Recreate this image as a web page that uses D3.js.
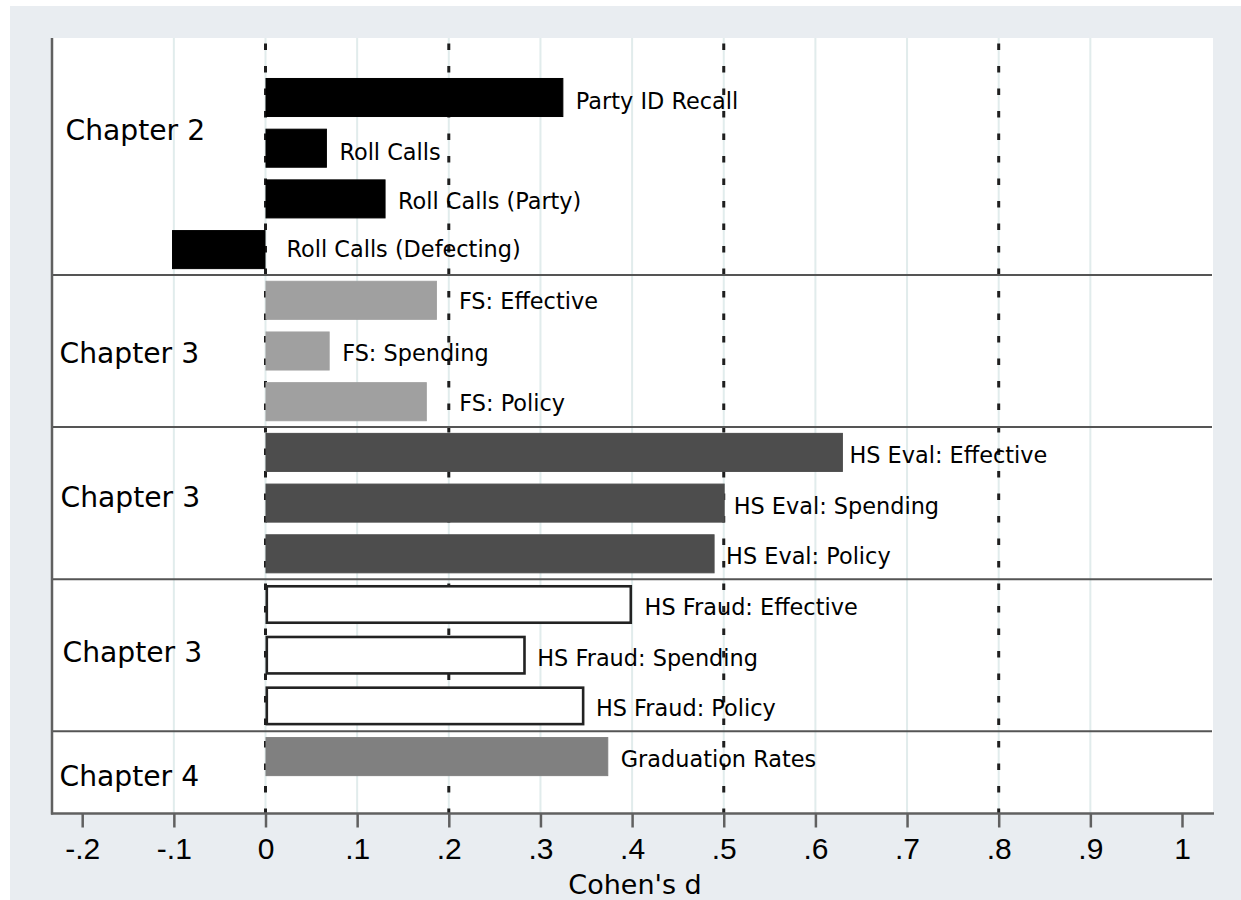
<!DOCTYPE html>
<html>
<head>
<meta charset="utf-8">
<script src="https://cdn.jsdelivr.net/npm/d3@7"></script>
<style>
  html, body { margin: 0; padding: 0; background: #fff; }
  svg { display: block; }
</style>
</head>
<body>
<script>
// ---------------- DATA ----------------
const categories = [
  "Party ID Recall", "Roll Calls", "Roll Calls (Party)", "Roll Calls (Defecting)",
  "FS: Effective", "FS: Spending", "FS: Policy",
  "HS Eval: Effective", "HS Eval: Spending", "HS Eval: Policy",
  "HS Fraud: Effective", "HS Fraud: Spending", "HS Fraud: Policy",
  "Graduation Rates"
];
const cohensD = [0.325, 0.067, 0.131, -0.102,
                 0.187, 0.070, 0.176,
                 0.630, 0.501, 0.490,
                 0.400, 0.284, 0.348,
                 0.374];
const groupOf = [0, 0, 0, 0, 1, 1, 1, 2, 2, 2, 3, 3, 3, 4];
const groupLabels = ["Chapter 2", "Chapter 3", "Chapter 3", "Chapter 3", "Chapter 4"];
const xTicks = [-0.2, -0.1, 0, 0.1, 0.2, 0.3, 0.4, 0.5, 0.6, 0.7, 0.8, 0.9, 1];
const gridValues = [-0.1, 0, 0.1, 0.2, 0.3, 0.4, 0.5, 0.6, 0.7, 0.8, 0.9];
const refLines = [0, 0.2, 0.5, 0.8];
const xTitle = "Cohen's d";

// ---------------- LAYOUT / STYLE ----------------
const W = 1241, H = 900;
const plot = { left: 52, right: 1213, top: 38, bottom: 813.5 };
const groupFill   = ["#000000", "#a0a0a0", "#4d4d4d", "#ffffff", "#808080"];
const groupStroke = ["#000000", "#a0a0a0", "#4d4d4d", "#222222", "#808080"];
// small hand-placement nudges of bar labels (px), as in the original
const labelNudgeX = [0, 0, 0, 8.5, 9.5, 0, 20, -6, -3.5, -1, 0, -1, -1, 0];
const labelNudgeY = [1, 1, 0, -3.5, -2, -0.5, -1, 0, 0, 0, 0, 0, 0, 0];
// chapter label placement relative to the centre of its group (px)
const chapterDX = [65.5, 59.5, 60.5, 62.5, 59.5];
const chapterDY = [-33.5, 12, 4, 7, 29.5];

const svg = d3.select("body").append("svg")
  .attr("width", W).attr("height", H);

svg.append("rect").attr("width", W).attr("height", H).attr("fill", "#ffffff");
svg.append("rect").attr("x", 10).attr("y", 6)
  .attr("width", W - 10).attr("height", H - 6).attr("fill", "#e9edf1");
svg.append("rect").attr("x", plot.left).attr("y", plot.top)
  .attr("width", plot.right - plot.left).attr("height", plot.bottom - plot.top)
  .attr("fill", "#ffffff");

const x = d3.scaleLinear().domain([-0.2, 1]).range([82.2, 1182]);
const y = d3.scaleBand().domain(d3.range(categories.length))
  .range([72.15, 781.95]).paddingInner(0.23).paddingOuter(0.115);
const bw = y.bandwidth();
const cy = i => y(i) + bw / 2;

// gridlines
svg.append("g").selectAll("line").data(gridValues).join("line")
  .attr("x1", d => x(d)).attr("x2", d => x(d))
  .attr("y1", plot.top).attr("y2", plot.bottom)
  .attr("stroke", "#e1ecec").attr("stroke-width", 2);

// reference dashed lines
svg.append("g").selectAll("line").data(refLines).join("line")
  .attr("x1", d => x(d)).attr("x2", d => x(d))
  .attr("y1", 43.5).attr("y2", plot.bottom)
  .attr("stroke", "#1e1e1e").attr("stroke-width", 3)
  .attr("stroke-dasharray", "6.5,16");

// group separators
const boundaries = d3.range(1, categories.length).filter(i => groupOf[i] !== groupOf[i - 1]);
svg.append("g").selectAll("line").data(boundaries).join("line")
  .attr("x1", plot.left).attr("x2", plot.right - 1)
  .attr("y1", i => (y(i - 1) + bw + y(i)) / 2)
  .attr("y2", i => (y(i - 1) + bw + y(i)) / 2)
  .attr("stroke", "#555555").attr("stroke-width", 2);

// bars
svg.append("g").selectAll("rect").data(cohensD).join("rect")
  .each(function (d, i) {
    const g = groupOf[i];
    const outlined = groupFill[g] === "#ffffff";
    const sw = outlined ? 2.6 : 1;
    const x0 = Math.min(x(0), x(d)), x1 = Math.max(x(0), x(d));
    d3.select(this)
      .attr("x", x0 + sw / 2).attr("y", y(i) + sw / 2)
      .attr("width", x1 - x0 - sw).attr("height", bw - sw)
      .attr("fill", groupFill[g]).attr("stroke", groupStroke[g])
      .attr("stroke-width", sw);
  });

// bar labels
svg.append("g").selectAll("text").data(categories).join("text")
  .attr("x", (d, i) => x(Math.max(0, cohensD[i])) + 12.5 + labelNudgeX[i])
  .attr("y", (d, i) => cy(i) + 10.5 + labelNudgeY[i])
  .attr("font-family", "'DejaVu Sans', sans-serif")
  .attr("font-size", 22.4).attr("fill", "#000")
  .text(d => d);

// chapter labels
const groupCenters = groupLabels.map((g, k) => {
  const idx = d3.range(categories.length).filter(i => groupOf[i] === k);
  return (cy(idx[0]) + cy(idx[idx.length - 1])) / 2;
});
svg.append("g").selectAll("text").data(groupLabels).join("text")
  .attr("x", (d, k) => chapterDX[k])
  .attr("y", (d, k) => groupCenters[k] + chapterDY[k])
  .attr("font-family", "'DejaVu Sans', sans-serif")
  .attr("font-size", 28.2).attr("fill", "#000")
  .text(d => d);

// left axis line
svg.append("line").attr("x1", plot.left).attr("x2", plot.left)
  .attr("y1", plot.top).attr("y2", plot.bottom + 1)
  .attr("stroke", "#606060").attr("stroke-width", 2.5);

// bottom axis
const fmt = d => d === 0 ? "0" : d === 1 ? "1"
  : d3.format(".1f")(d).replace("\u2212", "-").replace("0.", ".");
const xAxis = svg.append("g").attr("transform", `translate(0,${plot.bottom})`)
  .call(d3.axisBottom(x).tickValues(xTicks).tickFormat(fmt).tickSize(14).tickPadding(10));
xAxis.select(".domain").remove();
xAxis.selectAll(".tick line").attr("stroke", "#606060").attr("stroke-width", 2.5);
xAxis.selectAll(".tick text")
  .attr("font-family", "'Liberation Sans', Arial, sans-serif")
  .attr("font-size", 30).attr("fill", "#000");
svg.append("line").attr("x1", plot.left - 1).attr("x2", plot.right + 1)
  .attr("y1", plot.bottom).attr("y2", plot.bottom)
  .attr("stroke", "#606060").attr("stroke-width", 2.5);

// axis title
svg.append("text").attr("x", 635).attr("y", 894)
  .attr("text-anchor", "middle")
  .attr("font-family", "'DejaVu Sans', sans-serif")
  .attr("font-size", 27).attr("fill", "#000")
  .text(xTitle);
</script>
</body>
</html>
